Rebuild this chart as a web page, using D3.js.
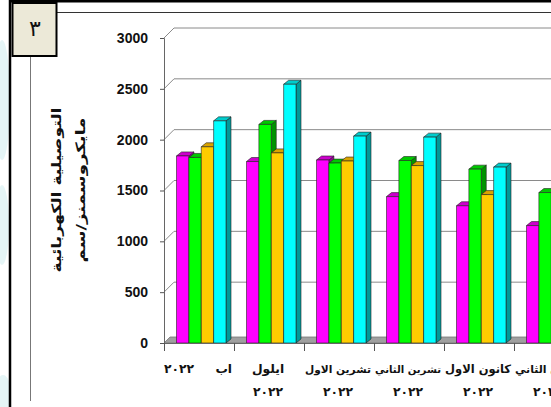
<!DOCTYPE html>
<html>
<head>
<meta charset="utf-8">
<script src="https://cdn.jsdelivr.net/npm/d3@7"></script>
<style>
  html, body { margin: 0; padding: 0; background: #fff; }
  svg { display: block; }
</style>
</head>
<body>
<svg id="chart" width="551" height="407"></svg>
<script>
// Monthly electrical conductivity readings (microsiemens/cm), four stations per month
const months = ["اب", "ايلول", "تشرين الاول", "تشرين الثاني", "كانون الاول", "كانون الثاني"];
const years  = ["٢٠٢٢", "٢٠٢٢", "٢٠٢٢", "٢٠٢٢", "٢٠٢٢", "٢٠٢٣"];
const seriesNames = ["s1", "s2", "s3", "s4"];
const s1 = [1840, 1785, 1800, 1440, 1350, 1155];
const s2 = [1825, 2150, 1770, 1795, 1710, 1480];
const s3 = [1930, 1870, 1790, 1745, 1460, null];
const s4 = [2185, 2545, 2035, 2025, 1730, null];
const yTicks = [0, 500, 1000, 1500, 2000, 2500, 3000];
const figureNo = "٣";
const titleLines = ["التوصيلية الكهربائية", "مايكروسمنز/سم"];

const faces = [
  { front: "#FF00FF", top: "#CC00CC", side: "#990099" },
  { front: "#00FF00", top: "#00C800", side: "#009400" },
  { front: "#FFCC00", top: "#D9A300", side: "#A67C00" },
  { front: "#00FFFF", top: "#00CCCC", side: "#009999" }
];
const seriesData = [s1, s2, s3, s4];

const svg = d3.select("#chart");
const W = 551, H = 407;

// page frame and faint watermark on the left margin
svg.append("rect").attr("width", W).attr("height", H).attr("fill", "#fff");
[[2, 100, 8, 60], [2, 225, 7, 40], [3, 395, 8, 20]].forEach(([cx, cy, rx, ry]) => {
  svg.append("ellipse").attr("cx", cx).attr("cy", cy).attr("rx", rx).attr("ry", ry)
    .attr("fill", "#dff2f4").attr("opacity", 0.8);
});
svg.append("line").attr("x1", 10).attr("x2", 10).attr("y1", 0).attr("y2", H)
  .attr("stroke", "#000").attr("stroke-width", 2.5);
svg.append("line").attr("x1", 10).attr("x2", W).attr("y1", 1.2).attr("y2", 1.2)
  .attr("stroke", "#000").attr("stroke-width", 2.5);
svg.append("line").attr("x1", 57).attr("x2", W).attr("y1", 12.5).attr("y2", 12.5)
  .attr("stroke", "#333").attr("stroke-width", 1);
svg.append("line").attr("x1", 30.5).attr("x2", 30.5).attr("y1", 56).attr("y2", 401)
  .attr("stroke", "#777").attr("stroke-width", 1);

// figure number box
svg.append("rect").attr("x", 12.5).attr("y", 3).attr("width", 44).attr("height", 53)
  .attr("fill", "#ECE9D8").attr("stroke", "#000").attr("stroke-width", 2);
svg.append("text").attr("x", 35).attr("y", 36).attr("text-anchor", "middle")
  .attr("font-family", "DejaVu Sans").attr("font-size", 22).attr("fill", "#111")
  .text(figureNo);

// scales
const x0 = 164, y0 = 343;
const depth = { dx: 10, dy: -10 };
const bar3d = { dx: 5, dy: -4 };
const y = d3.scaleLinear().domain([0, 3000]).range([y0, 38]);
const xCat = d3.scaleBand().domain(months).range([x0, x0 + 70 * months.length]).padding(0);
const xSer = d3.scaleBand().domain(seriesNames).range([12.5, 62]).padding(0);

// walls: back-wall gridlines and left-wall diagonals
const grid = svg.append("g").attr("stroke", "#8a8a8a").attr("stroke-width", 1).attr("fill", "none");
yTicks.filter(v => v > 0).forEach(v => {
  const yy = y(v);
  grid.append("path").attr("d", `M${x0},${yy} L${x0 + depth.dx},${yy + depth.dy} L${W},${yy + depth.dy}`);
});

// floor
svg.append("path")
  .attr("d", `M${x0},${y0} L${x0 + 6},${y0 - 6} L${W},${y0 - 6} L${W},${y0} Z`)
  .attr("fill", "#A0A0A0").attr("stroke", "#777").attr("stroke-width", 0.8);

// bars
const bars = svg.append("g").attr("stroke", "#222").attr("stroke-width", 0.6).attr("stroke-linejoin", "round");
months.forEach((m, i) => {
  seriesData.forEach((vals, k) => {
    const v = vals[i];
    if (v == null) return;
    const xa = xCat(m) + xSer(seriesNames[k]);
    const xb = xa + xSer.bandwidth();
    const yt = y(v);
    const c = faces[k];
    bars.append("path")
      .attr("d", `M${xb},${yt} L${xb + bar3d.dx},${yt + bar3d.dy} L${xb + bar3d.dx},${y0 + bar3d.dy} L${xb},${y0} Z`)
      .attr("fill", c.side);
    bars.append("path")
      .attr("d", `M${xa},${yt} L${xa + bar3d.dx},${yt + bar3d.dy} L${xb + bar3d.dx},${yt + bar3d.dy} L${xb},${yt} Z`)
      .attr("fill", c.top);
    bars.append("rect")
      .attr("x", xa).attr("y", yt).attr("width", xb - xa).attr("height", y0 - yt)
      .attr("fill", c.front);
  });
});

// value axis
const yAxis = d3.axisLeft(y).tickValues(yTicks).tickSize(4).tickPadding(12).tickFormat(d3.format("d"));
const gy = svg.append("g").attr("transform", `translate(${x0},0)`).call(yAxis);
gy.select(".domain").attr("stroke", "#666");
gy.selectAll(".tick line").attr("stroke", "#555");
gy.selectAll(".tick text")
  .attr("font-family", "Liberation Sans, Arial, sans-serif")
  .attr("font-weight", "bold").attr("font-size", 14).attr("fill", "#111");

// category axis: boundary ticks with labels centred in each band
const gx = svg.append("g");
gx.append("line").attr("x1", x0).attr("x2", W).attr("y1", y0 + 0.5).attr("y2", y0 + 0.5)
  .attr("stroke", "#666");
months.forEach((m, i) => {
  const xs = xCat(m);
  gx.append("line").attr("x1", xs + 0.5).attr("x2", xs + 0.5).attr("y1", y0).attr("y2", y0 + 8)
    .attr("stroke", "#555");
});
const labelFont = { family: "DejaVu Sans", size: 12.3 };
const maxLabel = xCat.bandwidth() - 4;
function catText(x, yy, s) {
  const t = gx.append("text").attr("x", x).attr("y", yy)
    .attr("text-anchor", "middle").attr("direction", "rtl")
    .attr("font-family", labelFont.family).attr("font-weight", "bold")
    .attr("font-size", labelFont.size).attr("fill", "#111")
    .text(s);
  // shrink long labels so they stay inside their own band
  const len = t.node().getComputedTextLength();
  if (len > maxLabel) t.attr("font-size", labelFont.size * maxLabel / len);
  return t;
}
months.forEach((m, i) => {
  const cx = xCat(m) + xCat.bandwidth() / 2 - 1;
  if (i === 0) {
    catText(cx, 373, m + "     " + years[i]).style("white-space", "pre");
  } else {
    catText(cx, 373, m);
    catText(cx, 396, years[i]);
  }
});

// value axis title, two rotated lines
const titleLen = [165, 145];
titleLines.forEach((t, j) => {
  svg.append("text")
    .attr("transform", `translate(${61 + j * 24},190) rotate(-90)`)
    .attr("text-anchor", "middle").attr("direction", "rtl")
    .attr("font-family", "DejaVu Sans").attr("font-weight", "bold")
    .attr("font-size", 13).attr("fill", "#111")
    .attr("textLength", titleLen[j]).attr("lengthAdjust", "spacingAndGlyphs")
    .text(t);
});
</script>
</body>
</html>
